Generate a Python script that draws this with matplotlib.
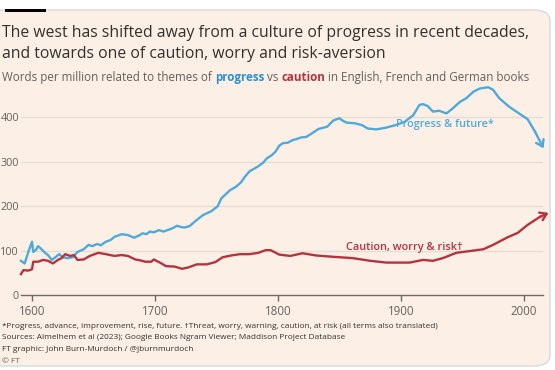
import matplotlib
matplotlib.use("Agg")
import matplotlib.pyplot as plt
from matplotlib.patches import FancyBboxPatch, Rectangle
import numpy as np

# ---- data ----
progress_years = [1591, 1594, 1597, 1600, 1601, 1603, 1605, 1607, 1611, 1613, 1616, 1619, 1622, 1625,
                  1629, 1633, 1637, 1642, 1646, 1649, 1653, 1656, 1660, 1664, 1667, 1673, 1678, 1683,
                  1687, 1690, 1693, 1696, 1699, 1703, 1707, 1711, 1714, 1718, 1721, 1724, 1728, 1734,
                  1739, 1746, 1751, 1754, 1761, 1766, 1770, 1773, 1777, 1781, 1784, 1788, 1791, 1795,
                  1798, 1801, 1804, 1808, 1812, 1816, 1819, 1823, 1827, 1833, 1840, 1845, 1850, 1853,
                  1856, 1862, 1868, 1873, 1880, 1888, 1896, 1903, 1910, 1915, 1918, 1922, 1926, 1931,
                  1937, 1942, 1948, 1953, 1959, 1964, 1971, 1975, 1980, 1988, 1996, 2003, 2009, 2016]
progress_values = [77, 71, 97, 120, 97, 101, 110, 105, 94, 90, 79, 85, 92, 85,
                   83, 85, 97, 103, 113, 110, 115, 112, 120, 124, 131, 137, 135, 129,
                   134, 139, 137, 143, 141, 146, 143, 147, 150, 156, 153, 152, 155, 169,
                   180, 189, 200, 218, 236, 244, 254, 266, 279, 285, 290, 298, 308, 315,
                   323, 336, 342, 343, 349, 352, 355, 356, 363, 374, 379, 393, 398, 392,
                   388, 387, 383, 375, 373, 377, 383, 390, 405, 428, 430, 425, 413, 415,
                   409, 420, 435, 443, 458, 465, 468, 462, 443, 424, 409, 396, 368, 330]

caution_years = [1591, 1593, 1597, 1600, 1601, 1605, 1609, 1613, 1617, 1621, 1624, 1627, 1631, 1634,
                 1637, 1642, 1647, 1654, 1660, 1667, 1673, 1678, 1684, 1688, 1692, 1697, 1699, 1704,
                 1709, 1716, 1722, 1727, 1734, 1742, 1749, 1755, 1762, 1769, 1777, 1784, 1790, 1794,
                 1801, 1810, 1820, 1831, 1845, 1861, 1875, 1888, 1907, 1918, 1926, 1934, 1945, 1956,
                 1967, 1975, 1986, 1995, 2003, 2013, 2020]
caution_values = [47, 56, 55, 58, 75, 75, 79, 77, 71, 79, 83, 92, 88, 90,
                  79, 80, 88, 95, 92, 88, 90, 88, 80, 78, 75, 75, 80, 73,
                  65, 64, 59, 62, 69, 69, 74, 85, 89, 92, 92, 95, 101, 101,
                  91, 88, 94, 89, 86, 83, 77, 73, 73, 79, 77, 83, 95, 99,
                  103, 113, 129, 140, 158, 176, 185]

x_ticks = [1600, 1700, 1800, 1900, 2000]
y_ticks = [0, 100, 200, 300, 400]

title_lines = ["The west has shifted away from a culture of progress in recent decades,",
               "and towards one of caution, worry and risk-aversion"]
notes = ["*Progress, advance, improvement, rise, future. \u2020Threat, worry, warning, caution, at risk (all terms also translated)",
         "Sources: Almelhem et al (2023); Google Books Ngram Viewer; Maddison Project Database",
         "FT graphic: John Burn-Murdoch / @jburnmurdoch",
         "\u00a9 FT"]

# ---- style ----
W, H = 555, 370
BG = "#FCF0E6"
BLUE = "#4FA9D9"
RED = "#B5323F"
DARK = "#33302E"
GREY = "#66605C"
FONT = "Open Sans"
plt.rcParams["font.family"] = [FONT, "DejaVu Sans"]

fig = plt.figure(figsize=(W / 100, H / 100), dpi=100)
fig.patch.set_facecolor("white")

def px(x, y):
    return x / W, 1 - y / H

# card
card = FancyBboxPatch((-12 / W, 1 - 366 / H), (550 + 12) / W, (366 - 10) / H,
                      boxstyle="round,pad=0,rounding_size=0.03",
                      transform=fig.transFigure, facecolor=BG, edgecolor="#D5DADF",
                      linewidth=1.0, zorder=-10)
fig.patches.append(card)
fig.patches.append(Rectangle((5 / W, 1 - 12.3 / H), 41 / W, 3 / H, transform=fig.transFigure,
                             facecolor="black", edgecolor="none", zorder=-5))

# axes
left, right, bottom = 20.7, 543, 295
ymax = 470
top = bottom - ymax * 0.444
ax = fig.add_axes([left / W, 1 - bottom / H, (right - left) / W, (bottom - top) / H])
ax.set_zorder(5)
ax.set_facecolor("none")
ax.patch.set_alpha(0)
ax.set_xlim(1590.8, 2015.5)
ax.set_ylim(0, ymax)
for s in ["top", "right", "left"]:
    ax.spines[s].set_visible(False)
ax.spines["bottom"].set_color("#6E6862")
ax.spines["bottom"].set_linewidth(1.0)
ax.set_xticks(x_ticks)
ax.set_yticks(y_ticks)
ax.tick_params(axis="x", length=4, width=1.0, color="#6E6862", labelsize=8.3,
               labelcolor=GREY, pad=3)
ax.tick_params(axis="y", length=0, labelsize=7.8, labelcolor=GREY, pad=1.2)
for yv in y_ticks[1:]:
    ax.axhline(yv, color="#E7DDD4", linewidth=1.0, zorder=1)

ax.plot(progress_years[:-1], progress_values[:-1], color=BLUE, lw=1.7, zorder=3,
        solid_joinstyle="round", clip_on=False)
ax.plot(caution_years[:-1], caution_values[:-1], color=RED, lw=1.7, zorder=3,
        solid_joinstyle="round", clip_on=False)
for yrs, vals, c in [(progress_years, progress_values, BLUE), (caution_years, caution_values, RED)]:
    ax.annotate("", xy=(yrs[-1], vals[-1]), xytext=(yrs[-2], vals[-2]),
                arrowprops=dict(arrowstyle="->,head_length=0.45,head_width=0.3", color=c, lw=1.7,
                                shrinkA=0, shrinkB=0),
                annotation_clip=False, zorder=4)

ax.text(1935.5, 385, "Progress & future*", color=BLUE, fontsize=7.8, fontweight="semibold",
        ha="center", va="center")
ax.text(1903, 106, "Caution, worry & risk\u2020", color=RED, fontsize=7.8, fontweight="semibold",
        ha="center", va="center")

# title
for i, line in enumerate(title_lines):
    fig.text(*px(2, 36.7 + i * 21.8), line, fontsize=11.3, color=DARK, ha="left", va="baseline")

# subtitle with coloured words
renderer = fig.canvas.get_renderer()
parts = [("Words per million related to themes of ", GREY, "normal"),
         ("progress", "#2E8FCB", "bold"),
         (" vs ", GREY, "normal"),
         ("caution", RED, "bold"),
         (" in English, French and German books", GREY, "normal")]
xcur = 2
for s, c, w in parts:
    t = fig.text(*px(xcur, 81), s, fontsize=8.35, color=c, fontweight=w, ha="left", va="baseline")
    bb = t.get_window_extent(renderer=renderer)
    xcur += bb.width

# notes
for i, line in enumerate(notes):
    fig.text(*px(2, 327.5 + i * 11.8), line, fontsize=5.95, color=DARK if i < 3 else GREY,
             ha="left", va="baseline")

fig.savefig("out.png", dpi=100, facecolor=fig.get_facecolor())
